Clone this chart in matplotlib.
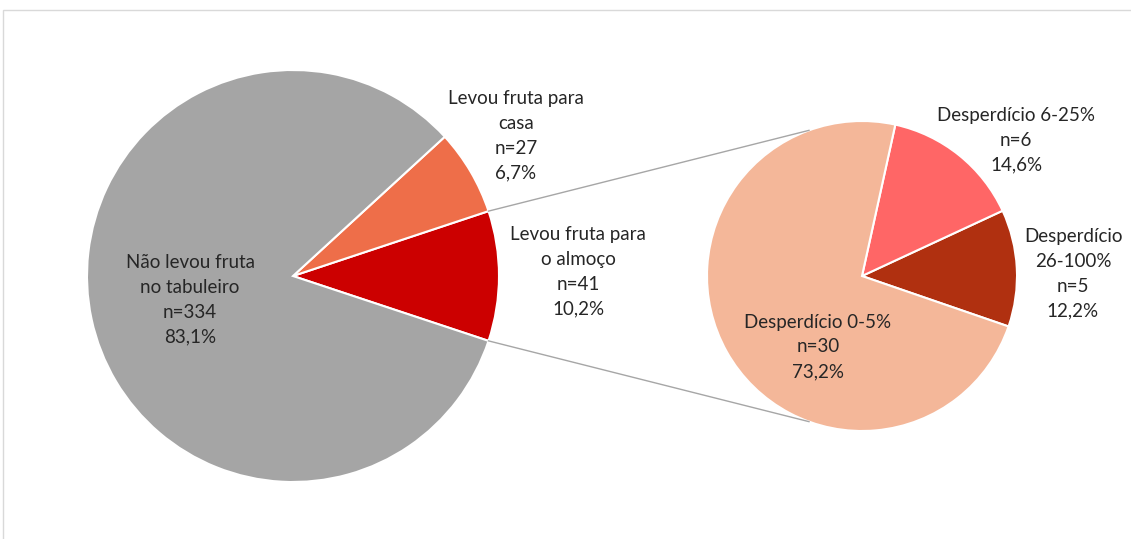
import matplotlib
matplotlib.use("Agg")
import matplotlib.pyplot as plt
from matplotlib.patches import Rectangle
import numpy as np

# Main pie data (counterclockwise order starting at the red slice)
main_labels = ["Levou fruta para\no almoço", "Levou fruta para\ncasa", "Não levou fruta\nno tabuleiro"]
main_counts = [41, 27, 334]
main_pcts = ["10,2%", "6,7%", "83,1%"]
main_colors = ["#CC0000", "#EE6E49", "#A5A5A5"]

# Secondary pie data (breakdown of "Levou fruta para o almoço")
sub_labels = ["Desperdício\n26-100%", "Desperdício 6-25%", "Desperdício 0-5%"]
sub_counts = [5, 6, 30]
sub_pcts = ["12,2%", "14,6%", "73,2%"]
sub_colors = ["#B03010", "#FF6666", "#F4B799"]

W, H = 1131, 539
fig = plt.figure(figsize=(W / 100, H / 100), dpi=100)
ax = fig.add_axes([0, 0, 1, 1])

def Y(y):
    return H - y

# main pie
c1 = (293, Y(276)); r1 = 206
start1 = -360 * main_counts[0] / sum(main_counts) / 2
ax.pie(main_counts, colors=main_colors, startangle=start1, counterclock=True,
       center=c1, radius=r1, wedgeprops=dict(edgecolor="white", linewidth=1.5),
       frame=True)

# secondary pie
c2 = (862, Y(276)); r2 = 155
ax.pie(sub_counts, colors=sub_colors, startangle=-19, counterclock=True,
       center=c2, radius=r2, wedgeprops=dict(edgecolor="white", linewidth=1.5),
       frame=True)
ax.set_xlim(0, W)
ax.set_ylim(0, H)
ax.set_aspect("equal")
ax.axis("off")

# frame
ax.add_patch(Rectangle((3, Y(600)), 1200, 590, fill=False, edgecolor="#D9D9D9", lw=1))

# connector lines
a = np.deg2rad(start1)
p_top = (c1[0] + r1 * np.cos(-a), c1[1] + r1 * np.sin(-a))
p_bot = (c1[0] + r1 * np.cos(a), c1[1] + r1 * np.sin(a))
q_top = (c2[0] + r2 * np.cos(np.deg2rad(110)), c2[1] + r2 * np.sin(np.deg2rad(110)))
q_bot = (c2[0] + r2 * np.cos(np.deg2rad(250)), c2[1] + r2 * np.sin(np.deg2rad(250)))
ax.plot([p_top[0], q_top[0]], [p_top[1], q_top[1]], color="#A6A6A6", lw=1)
ax.plot([p_bot[0], q_bot[0]], [p_bot[1], q_bot[1]], color="#A6A6A6", lw=1)

tk = dict(ha="center", va="center", fontsize=13.5, color="#262626",
          family=["Lato", "DejaVu Sans"], linespacing=1.55)

main_pos = [(578, 272), (516, 136), (190, 300)]
for lab, n, p, (x, y) in zip(main_labels, main_counts, main_pcts, main_pos):
    ax.text(x, Y(y), f"{lab}\nn={n}\n{p}", **tk)

sub_pos = [(1073, 274), (1016, 140), (818, 347)]
for lab, n, p, (x, y) in zip(sub_labels, sub_counts, sub_pcts, sub_pos):
    ax.text(x, Y(y), f"{lab}\nn={n}\n{p}", **tk)

fig.savefig("out.png", dpi=100)
